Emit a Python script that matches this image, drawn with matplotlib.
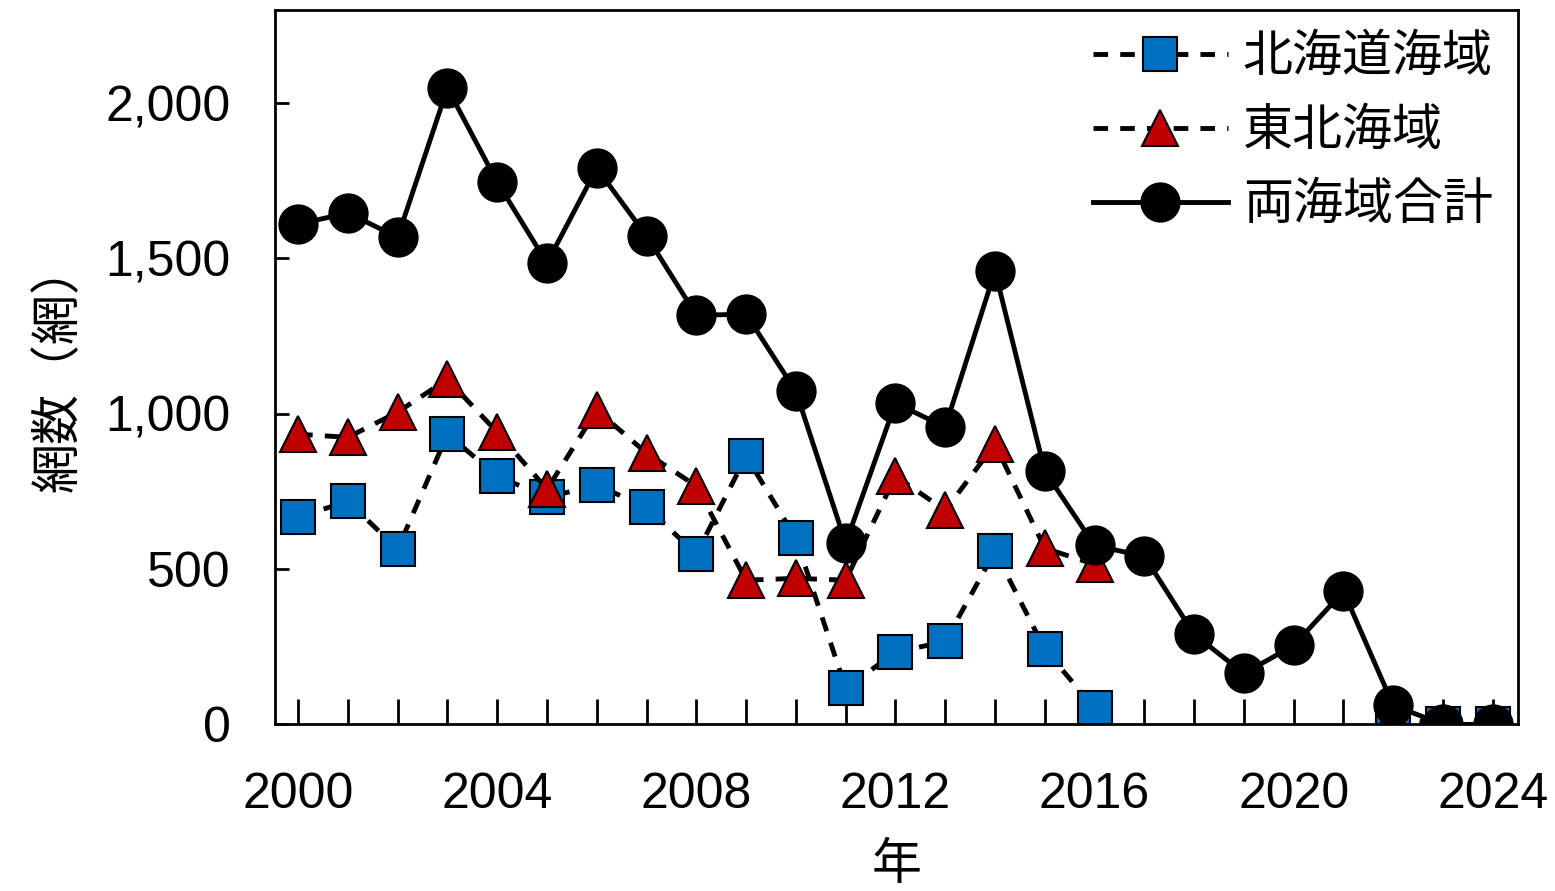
import numpy as np
import matplotlib
matplotlib.use('Agg')
from matplotlib import pyplot as plt

plt.rcParams['font.family'] = ['Liberation Sans', 'Noto Sans CJK JP', 'DejaVu Sans']

years = np.arange(2000, 2025)
nan = np.nan
hokkaido = [667, 718, 564, 934, 799, 731, 770, 699, 548, 863, 599, 116, 232, 267, 557, 242, 52,
            nan, nan, nan, nan, nan, 10, 0, 0]
tohoku = [934, 924, 1005, 1111, 940, 757, 1011, 873, 767, 464, 470, 464, 799, 689, 902, 567, 515,
          nan, nan, nan, nan, nan, 25, 0, 0]
total = [1610, 1646, 1568, 2048, 1745, 1485, 1790, 1572, 1317, 1320, 1072, 583, 1034, 957, 1459,
         815, 576, 541, 290, 164, 254, 428, 61, 0, 0]

fig = plt.figure(figsize=(15.55, 8.91), dpi=100)
ax = fig.add_axes([0.177, 0.187, 0.799, 0.802])

ax.plot(years, hokkaido, '--', color='black', lw=3.5, marker='s', ms=24,
        mfc='#0070c0', mec='black', mew=1.5, label='北海道海域', dashes=(3, 2.5))
ax.plot(years, tohoku, '--', color='black', lw=3.5, marker='^', ms=26,
        mfc='#c00000', mec='black', mew=1.5, label='東北海域', dashes=(3, 2.5))
ax.plot(years, total, '-', color='black', lw=3.5, marker='o', ms=28,
        mfc='black', mec='black', label='両海域合計')

ax.set_xlim(1999.54, 2024.5)
ax.set_ylim(0, 2300)
ax.set_xticks(np.arange(2000, 2025, 4))
ax.set_xticks(years, minor=True)
ax.set_yticks([0, 500, 1000, 1500, 2000])
ax.set_yticklabels(['0', '500', '1,000', '1,500', '2,000'])
ax.tick_params(axis='both', which='both', direction='in', labelsize=36, width=2)
ax.tick_params(axis='x', which='major', length=18, pad=34)
ax.tick_params(axis='x', which='minor', length=18)
ax.tick_params(axis='y', length=10, pad=32)
for s in ax.spines.values():
    s.set_linewidth(2)

ax.set_xlabel('年', fontsize=36, labelpad=18)
ax.set_ylabel('網数（網）', fontsize=36, labelpad=16)

leg = ax.legend(loc='upper right', fontsize=36, frameon=False, handlelength=2.7,
                borderaxespad=0.1, labelspacing=0.55, handletextpad=0.3)

fig.savefig('out.png', dpi=100)
